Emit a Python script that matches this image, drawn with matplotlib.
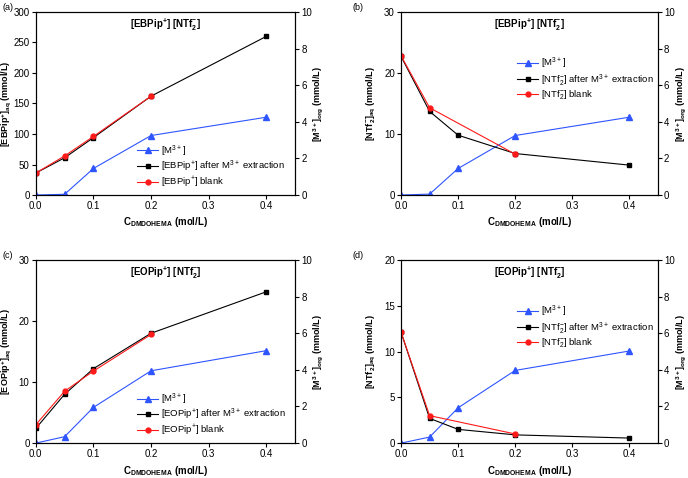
import matplotlib
matplotlib.use("Agg")
import matplotlib.pyplot as plt

plt.rcParams['font.family'] = ['Liberation Sans', 'DejaVu Sans']
plt.rcParams['mathtext.fontset'] = 'custom'
plt.rcParams['mathtext.rm'] = 'Liberation Sans'
plt.rcParams['mathtext.bf'] = 'Liberation Sans:bold'
plt.rcParams['mathtext.default'] = 'regular'

# concentrations of extractant (mol/L)
conc = [0.0, 0.05, 0.1, 0.2, 0.4]
conc_blank = [0.0, 0.05, 0.1, 0.2]
conc_blank_ntf = [0.0, 0.05, 0.2]

# (a) EBPip+ in aqueous phase
a_extr = [36, 61, 94, 162, 260]
a_blank = [36, 64, 96, 162]
a_metal = [0.0, 0.04, 1.45, 3.25, 4.25]

# (b) NTf2- with EBPip
b_extr = [22.7, 13.7, 9.8, 6.8, 4.9]
b_blank = [22.8, 14.3, 6.7]
b_metal = [0.0, 0.05, 1.45, 3.25, 4.25]

# (c) EOPip+ in aqueous phase
c_extr = [2.4, 8.0, 12.2, 18.0, 24.8]
c_blank = [3.0, 8.5, 11.8, 17.8]
c_metal = [0.0, 0.35, 1.95, 3.95, 5.05]

# (d) NTf2- with EOPip
d_extr = [12.1, 2.7, 1.5, 0.9, 0.55]
d_blank = [12.1, 3.0, 1.0]
d_metal = [0.0, 0.33, 1.93, 3.97, 5.03]

blue = '#2f55ff'
fs = 7

fig = plt.figure(figsize=(6.88, 4.78), dpi=100)

panels = [
    dict(pos=[0.052, 0.592, 0.377, 0.383], tag='(a)', ymax=300, yticks=range(0, 301, 50),
         ylabel=r'[EBPip$^{\mathbf{+}}$]$_{\mathbf{aq}}$ (mmol/L)',
         title=r'[EBPip$^{\mathbf{+}}$] [NTf$_{\mathbf{2}}^{\mathbf{-}}$]',
         extr=a_extr, blank=a_blank, xb=conc_blank, metal=a_metal,
         lext=r'[EBPip$^{+}$] after M$^{3+}$ extraction', lblank=r'[EBPip$^{+}$] blank',
         leg=dict(loc='lower left', bbox_to_anchor=(0.37, 0.0))),
    dict(pos=[0.583, 0.592, 0.373, 0.383], tag='(b)', ymax=30, yticks=range(0, 31, 10),
         ylabel=r'[NTf$_{\mathbf{2}}^{\mathbf{-}}$]$_{\mathbf{aq}}$ (mmol/L)',
         title=r'[EBPip$^{\mathbf{+}}$] [NTf$_{\mathbf{2}}^{\mathbf{-}}$]',
         extr=b_extr, blank=b_blank, xb=conc_blank_ntf, metal=b_metal,
         lext=r'[NTf$_2^{-}$] after M$^{3+}$ extraction', lblank=r'[NTf$_2^{-}$] blank',
         leg=dict(loc='upper left', bbox_to_anchor=(0.43, 0.79))),
    dict(pos=[0.052, 0.073, 0.377, 0.383], tag='(c)', ymax=30, yticks=range(0, 31, 10),
         ylabel=r'[EOPip$^{\mathbf{+}}$]$_{\mathbf{aq}}$ (mmol/L)',
         title=r'[EOPip$^{\mathbf{+}}$] [NTf$_{\mathbf{2}}^{\mathbf{-}}$]',
         extr=c_extr, blank=c_blank, xb=conc_blank, metal=c_metal,
         lext=r'[EOPip$^{+}$] after M$^{3+}$ extraction', lblank=r'[EOPip$^{+}$] blank',
         leg=dict(loc='lower left', bbox_to_anchor=(0.37, 0.0))),
    dict(pos=[0.583, 0.073, 0.373, 0.383], tag='(d)', ymax=20, yticks=range(0, 21, 5),
         ylabel=r'[NTf$_{\mathbf{2}}^{\mathbf{-}}$]$_{\mathbf{aq}}$ (mmol/L)',
         title=r'[EOPip$^{\mathbf{+}}$] [NTf$_{\mathbf{2}}^{\mathbf{-}}$]',
         extr=d_extr, blank=d_blank, xb=conc_blank_ntf, metal=d_metal,
         lext=r'[NTf$_2^{-}$] after M$^{3+}$ extraction', lblank=r'[NTf$_2^{-}$] blank',
         leg=dict(loc='upper left', bbox_to_anchor=(0.43, 0.79))),
]

for p in panels:
    ax = fig.add_axes(p['pos'])
    ax2 = ax.twinx()
    ax.set_zorder(ax2.get_zorder() + 1)
    ax.patch.set_visible(False)

    l1, = ax2.plot(conc, p['metal'], '-^', color=blue, lw=0.8, ms=4, label=r'[M$^{3+}$]')
    l2, = ax.plot(conc, p['extr'], '-s', color='black', lw=0.8, ms=3.5, label=p['lext'])
    l3, = ax.plot(p['xb'], p['blank'], '-o', color='#ff1a1a', lw=0.8, ms=3.5, label=p['lblank'])

    ax.set_xlim(0, 0.45)
    ax.set_xticks([0.0, 0.1, 0.2, 0.3, 0.4])
    ax.set_xticklabels(['0.0', '0.1', '0.2', '0.3', '0.4'])
    ax.set_ylim(0, p['ymax'])
    ax.set_yticks(list(p['yticks']))
    ax2.set_ylim(0, 10)
    ax2.set_yticks(range(0, 11, 2))

    for a in (ax, ax2):
        a.tick_params(labelsize=fs, length=3, width=0.8, direction='out', pad=1.5)
        for s in a.spines.values():
            s.set_linewidth(0.8)

    ax.set_xlabel(r'C$_{\mathbf{DMDOHEMA}}$ (mol/L)', fontsize=7, fontweight='bold', labelpad=3)
    ax.set_ylabel(p['ylabel'], fontsize=6.5, fontweight='bold')
    ax2.set_ylabel(r'[M$^{\mathbf{3+}}$]$_{\mathbf{org}}$ (mmol/L)', fontsize=6.5, fontweight='bold')
    # place the axis titles close to the tick labels, as in the original
    w = p['pos'][2] * 688
    ax.yaxis.set_label_coords(-23 / w, 0.5)
    ax2.yaxis.set_label_coords(1 + 16 / w, 0.5)
    ax.text(0.5, 0.93, p['title'], transform=ax.transAxes, ha='center', va='center',
            fontsize=7, fontweight='bold')

    ax.legend(handles=[l1, l2, l3], fontsize=6.8, frameon=False, handlelength=2.2,
              handletextpad=0.3, labelspacing=0.05, borderaxespad=0.2, **p['leg'])

    x0 = p['pos'][0] - 0.048 if p['tag'] in ('(a)', '(c)') else p['pos'][0] - 0.07
    fig.text(x0, p['pos'][1] + p['pos'][3] + 0.005, p['tag'], fontsize=6.5)

fig.savefig('out.png', dpi=100)
